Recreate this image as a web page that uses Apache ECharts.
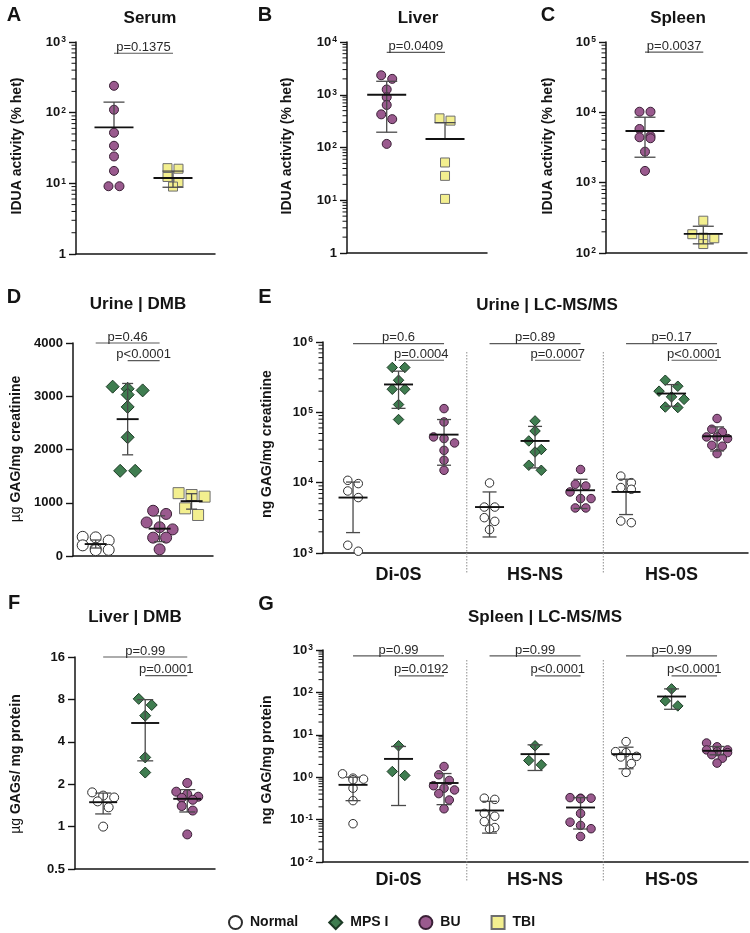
<!DOCTYPE html>
<html>
<head>
<meta charset="utf-8">
<title>IDUA activity and GAG levels</title>
<script src="https://cdn.jsdelivr.net/npm/echarts@6.0.0/dist/echarts.min.js"></script>
<style>
html,body{margin:0;padding:0;background:#ffffff;}
#chart{width:750px;height:933px;}
</style>
</head>
<body>
<div id="chart"></div>
<script>
// ================= DATA =================
const groupNames = ['Normal', 'MPS I', 'BU', 'TBI'];
const lcmsCategories = ['Di-0S', 'HS-NS', 'HS-0S'];

// stats arrays: [mean, lower (mean-SD, null if not drawn), upper (mean+SD)]
// A  Serum IDUA activity (% het)
const serumBU = [240, 110, 52, 34, 24, 15, 9.1, 9.1];
const serumBUStats = [62, null, 141];
const serumTBI = [16.4, 16.1, 12.3, 10.4, 9.0];
const serumTBIStats = [11.9, 8.8, 14.9];
const serumP = ['p=0.1375'];

// B  Liver IDUA activity (% het)
const liverBU = [2340, 2000, 1260, 900, 640, 425, 345, 117];
const liverBUStats = [1000, 195, 1800];
const liverTBI = [357, 323, 52, 29, 10.6];
const liverTBIStats = [145, null, 296];
const liverP = ['p=0.0409'];

// C  Spleen IDUA activity (% het)
const spleenBU = [10200, 10200, 5800, 4600, 4420, 4280, 2760, 1470];
const spleenBUStats = [5440, 2300, 8520];
const spleenTBI = [288, 185, 165, 162, 134];
const spleenTBIStats = [187, 135, 240];
const spleenP = ['p=0.0037'];

// D  Urine DMB (µg GAG/mg creatinine)
const urineDmbNormal = [360, 350, 290, 200, 140, 115, 110];
const urineDmbNormalStats = [224, 150, 300];
const urineDmbMPS = [3180, 3140, 3110, 3030, 2800, 2230, 1600, 1600];
const urineDmbMPSStats = [2570, 1900, 3240];
const urineDmbBU = [850, 790, 630, 540, 500, 345, 345, 125];
const urineDmbBUStats = [513, 270, 755];
const urineDmbTBI = [1180, 1145, 1115, 895, 770];
const urineDmbTBIStats = [1030, 880, 1170];
const urineDmbP = ['p=0.46', 'p<0.0001'];

// E  Urine LC-MS/MS (ng GAG/mg creatinine)
const urineDi0SNormal = [10800, 9700, 7620, 6140, 1290, 1060];
const urineDi0SNormalStats = [6140, 1950, 10200];
const urineDi0SMPS = [434000, 434000, 286000, 213000, 213000, 129000, 79000];
const urineDi0SMPSStats = [249000, 114000, 385000];
const urineDi0SBU = [113000, 73000, 44700, 42400, 36700, 28800, 20800, 15000];
const urineDi0SBUStats = [48200, 17700, 79000];
const urineHSNSNormal = [9900, 4500, 4500, 3180, 2820, 2150];
const urineHSNSNormalStats = [4500, 1690, 7380];
const urineHSNSMPS = [75500, 54300, 39200, 29600, 27300, 17700, 15000];
const urineHSNSMPSStats = [39200, 16200, 63100];
const urineHSNSBU = [15400, 9480, 8970, 7380, 5940, 5940, 4370, 4370];
const urineHSNSBUStats = [7800, 4290, 11170];
const urineHS0SNormal = [12400, 10000, 8520, 8050, 2850, 2700];
const urineHS0SNormalStats = [7380, 3520, 11200];
const urineHS0SMPS = [286000, 235000, 200000, 166000, 153000, 119000, 117000];
const urineHS0SMPSStats = [185000, 122000, 248000];
const urineHS0SBU = [81700, 57500, 52600, 44700, 44700, 42400, 34000, 33000, 25900];
const urineHS0SBUStats = [45700, 28200, 62100];
const urineLcmsP = [['p=0.6', 'p=0.0004'], ['p=0.89', 'p=0.0007'], ['p=0.17', 'p<0.0001']];

// F  Liver DMB (µg GAGs/mg protein)
const liverDmbNormal = [1.75, 1.66, 1.61, 1.51, 1.37, 1.0];
const liverDmbNormalStats = [1.49, 1.23, 1.73];
const liverDmbMPS = [8.07, 7.3, 6.13, 3.10, 2.42];
const liverDmbMPSStats = [5.44, 2.93, 7.97];
const liverDmbBU = [2.04, 1.77, 1.7, 1.63, 1.6, 1.55, 1.4, 1.3, 0.88];
const liverDmbBUStats = [1.575, 1.27, 1.83];
const liverDmbP = ['p=0.99', 'p=0.0001'];

// G  Spleen LC-MS/MS (ng GAG/mg protein)
const spleenDi0SNormal = [1.2, 0.95, 0.9, 0.87, 0.55, 0.28, 0.08];
const spleenDi0SNormalStats = [0.66, 0.28, 1.0];
const spleenDi0SMPS = [5.5, 1.36, 1.1];
const spleenDi0SMPSStats = [2.7, 0.215, 5.3];
const spleenDi0SBU = [1.79, 1.14, 0.84, 0.63, 0.55, 0.5, 0.41, 0.29, 0.18];
const spleenDi0SBUStats = [0.73, 0.225, 1.22];
const spleenHSNSNormal = [0.32, 0.30, 0.14, 0.12, 0.09, 0.065, 0.06];
const spleenHSNSNormalStats = [0.164, 0.048, 0.27];
const spleenHSNSMPS = [5.5, 2.47, 1.96];
const spleenHSNSMPSStats = [3.5, 1.44, 5.8];
const spleenHSNSBU = [0.33, 0.32, 0.32, 0.31, 0.14, 0.087, 0.073, 0.061, 0.04];
const spleenHSNSBUStats = [0.193, 0.06, 0.33];
const spleenHS0SNormal = [6.9, 4.0, 3.8, 3.1, 3.0, 2.1, 1.3];
const spleenHS0SNormalStats = [3.5, 1.58, 5.1];
const spleenHS0SMPS = [121, 63, 48];
const spleenHS0SMPSStats = [80, 40, 121];
const spleenHS0SBU = [6.4, 5.2, 4.4, 4.4, 4.0, 3.8, 3.4, 2.8, 2.15];
const spleenHS0SBUStats = [4.19, 3.37, 5.3];
const spleenLcmsP = [['p=0.99', 'p=0.0192'], ['p=0.99', 'p<0.0001'], ['p=0.99', 'p<0.0001']];

// ================= STYLE / LAYOUT =================
const FONT = '"Liberation Sans", Arial, Helvetica, sans-serif';
const INK = '#141414';
const STY = {
  'Normal': { symbol: 'circle', color: '#ffffff', border: '#2e2e2e', grow: 0 },
  'MPS I': { symbol: 'diamond', color: '#3f7d50', border: '#1c3a25', grow: 2 },
  'BU': { symbol: 'circle', color: '#9a5a8e', border: '#3a2036', grow: 0 },
  'TBI': { symbol: 'rect', color: '#f3ef8f', border: '#6e6e6e', grow: 0 }
};

function lcmsGroups(d) {
  const out = [];
  d.forEach((sec, s) => {
    ['Normal', 'MPS I', 'BU'].forEach((g, k) => out.push([g, 3 * s + k, sec[k][0], sec[k][1]]));
  });
  return out;
}
function lcmsBrackets(P, yTop, ySecond) {
  const out = [];
  P.forEach((pp, s) => {
    out.push([3 * s, 3 * s + 2, yTop, pp[0]]);
    out.push([3 * s + 1, 3 * s + 2, ySecond, pp[1]]);
  });
  return out;
}

const panels = [
  { letter: 'A', letterXY: [14, 15], title: 'Serum', titleXY: [150, 18],
    yTitle: 'IDUA activity (% het)', yTitleXY: [17, 146],
    grid: { left: 76, top: 42, width: 139, height: 212 }, xRange: [-0.644, 1.712],
    y: { type: 'log', base: 10, min: 1, max: 1000, showOne: true, minor: true },
    size: 9, meanW: 39, capW: 21,
    groups: [['BU', 0, serumBU, serumBUStats], ['TBI', 1, serumTBI, serumTBIStats]],
    brackets: [[0, 1, 693, serumP[0]]] },
  { letter: 'B', letterXY: [265, 15], title: 'Liver', titleXY: [418, 18],
    yTitle: 'IDUA activity (% het)', yTitleXY: [287, 146],
    grid: { left: 347, top: 42, width: 140, height: 211 }, xRange: [-0.681, 1.72],
    y: { type: 'log', base: 10, min: 1, max: 10000, showOne: true, minor: true },
    size: 9, meanW: 39, capW: 21,
    groups: [['BU', 0, liverBU, liverBUStats], ['TBI', 1, liverTBI, liverTBIStats]],
    brackets: [[0, 1, 6380, liverP[0]]] },
  { letter: 'C', letterXY: [548, 15], title: 'Spleen', titleXY: [678, 18],
    yTitle: 'IDUA activity (% het)', yTitleXY: [548, 146],
    grid: { left: 606, top: 42, width: 141, height: 211 }, xRange: [-0.669, 1.75],
    y: { type: 'log', base: 10, min: 100, max: 100000, showOne: false, minor: true },
    size: 9, meanW: 39, capW: 21,
    groups: [['BU', 0, spleenBU, spleenBUStats], ['TBI', 1, spleenTBI, spleenTBIStats]],
    brackets: [[0, 1, 71600, spleenP[0]]] },
  { letter: 'D', letterXY: [14, 297], title: 'Urine | DMB', titleXY: [138, 304],
    yTitle: '{r|µg} GAG/mg creatinine', yTitleXY: [16, 449],
    grid: { left: 73, top: 343, width: 140, height: 213 }, xRange: [-0.71, 3.67],
    y: { type: 'value', min: 0, max: 4000, interval: 1000 },
    size: 11, meanW: 22, capW: 11,
    groups: [['Normal', 0, urineDmbNormal, urineDmbNormalStats], ['MPS I', 1, urineDmbMPS, urineDmbMPSStats],
             ['BU', 2, urineDmbBU, urineDmbBUStats], ['TBI', 3, urineDmbTBI, urineDmbTBIStats]],
    brackets: [[0, 2, 4000, urineDmbP[0]], [1, 2, 3670, urineDmbP[1]]] },
  { letter: 'E', letterXY: [265, 297], title: 'Urine | LC-MS/MS', titleXY: [547, 305],
    yTitle: 'ng GAG/mg creatinine', yTitleXY: [267, 444],
    grid: { left: 323, top: 342, width: 425, height: 211 }, xRange: [-0.66, 8.68],
    y: { type: 'log', base: 10, min: 1000, max: 1000000, showOne: false, minor: true },
    size: 8.5, meanW: 29, capW: 14, cats: lcmsCategories, catMargin: 13, separators: [2.5, 5.5],
    groups: lcmsGroups([
      [[urineDi0SNormal, urineDi0SNormalStats], [urineDi0SMPS, urineDi0SMPSStats], [urineDi0SBU, urineDi0SBUStats]],
      [[urineHSNSNormal, urineHSNSNormalStats], [urineHSNSMPS, urineHSNSMPSStats], [urineHSNSBU, urineHSNSBUStats]],
      [[urineHS0SNormal, urineHS0SNormalStats], [urineHS0SMPS, urineHS0SMPSStats], [urineHS0SBU, urineHS0SBUStats]]
    ]),
    brackets: lcmsBrackets(urineLcmsP, 950000, 550000) },
  { letter: 'F', letterXY: [14, 603], title: 'Liver | DMB', titleXY: [135, 617],
    yTitle: '{r|µg} GAGs/ mg protein', yTitleXY: [16, 764],
    grid: { left: 75, top: 657, width: 140, height: 212 }, xRange: [-0.67, 2.66],
    y: { type: 'log', base: 2, min: 0.5, max: 16, minor: false },
    size: 9, meanW: 28, capW: 16,
    groups: [['Normal', 0, liverDmbNormal, liverDmbNormalStats], ['MPS I', 1, liverDmbMPS, liverDmbMPSStats],
             ['BU', 2, liverDmbBU, liverDmbBUStats]],
    brackets: [[0, 2, 16, liverDmbP[0]], [1, 2, 11.8, liverDmbP[1]]] },
  { letter: 'G', letterXY: [266, 604], title: 'Spleen | LC-MS/MS', titleXY: [545, 617],
    yTitle: 'ng GAG/mg protein', yTitleXY: [267, 760],
    grid: { left: 323, top: 650, width: 425, height: 212 }, xRange: [-0.66, 8.68],
    y: { type: 'log', base: 10, min: 0.01, max: 1000, showOne: false, minor: true },
    size: 8.5, meanW: 29, capW: 15, cats: lcmsCategories, catMargin: 9, separators: [2.5, 5.5],
    groups: lcmsGroups([
      [[spleenDi0SNormal, spleenDi0SNormalStats], [spleenDi0SMPS, spleenDi0SMPSStats], [spleenDi0SBU, spleenDi0SBUStats]],
      [[spleenHSNSNormal, spleenHSNSNormalStats], [spleenHSNSMPS, spleenHSNSMPSStats], [spleenHSNSBU, spleenHSNSBUStats]],
      [[spleenHS0SNormal, spleenHS0SNormalStats], [spleenHS0SMPS, spleenHS0SMPSStats], [spleenHS0SBU, spleenHS0SBUStats]]
    ]),
    brackets: lcmsBrackets(spleenLcmsP, 724, 245) }
];

// ================= HELPERS =================
function yFrac(P, v) {
  const y = P.y;
  if (y.type === 'log') {
    const L = x => Math.log(x) / Math.log(y.base);
    return (L(v) - L(y.min)) / (L(y.max) - L(y.min));
  }
  return (v - y.min) / (y.max - y.min);
}
// row-based scatter layout (GraphPad-like): points closer than ~one symbol
// vertically share a row (max 3 per row) spread symmetrically around the group centre
function swarm(P, pos, values, size) {
  const unitPx = P.grid.width / (P.xRange[1] - P.xRange[0]);
  const step = size + 2;
  const order = values.map((v, k) => ({ v, k, yp: yFrac(P, v) * P.grid.height }))
                      .sort((a, b) => b.yp - a.yp);
  const rows = [];
  order.forEach(o => {
    const r = rows[rows.length - 1];
    if (r && r.length < 3 && r[0].yp - o.yp < size * 0.85) r.push(o); else rows.push([o]);
  });
  const out = new Array(values.length);
  rows.forEach(r => {
    r.forEach((o, j) => {
      const off = (j - (r.length - 1) / 2) * step;
      out[o.k] = [pos + off / unitPx, o.v];
    });
  });
  return out;
}
function logLabel(P) {
  return function (v) {
    if (P.y.base === 2) return String(+(+v).toPrecision(4));
    const e = Math.round(Math.log10(v));
    if (e === 0 && P.y.showOne) return '1';
    return '{b|10}{s|' + e + '}';
  };
}
function minorValues(P) {
  const out = [];
  const e0 = Math.round(Math.log10(P.y.min)), e1 = Math.round(Math.log10(P.y.max));
  for (let e = e0; e < e1; e++) for (let m = 2; m <= 9; m++) out.push(m * Math.pow(10, e));
  return out;
}

// ================= OPTION =================
const option = {
  animation: false,
  backgroundColor: '#ffffff',
  textStyle: { fontFamily: FONT },
  grid: [], xAxis: [], yAxis: [], series: [], graphic: [],
  legend: {
    left: 228, top: 915, padding: 0, itemWidth: 13, itemHeight: 13, itemGap: 30,
    selectedMode: false,
    textStyle: { fontFamily: FONT, fontSize: 14, fontWeight: 'bold', color: INK, padding: [0, 0, 0, 3] },
    data: [
      { name: 'Normal', icon: 'circle' }, { name: 'MPS I', icon: 'diamond' },
      { name: 'BU', icon: 'circle' }, { name: 'TBI', icon: 'rect' }
    ]
  }
};

const labelRich = {
  b: { fontSize: 13, fontWeight: 'bold', fontFamily: FONT, color: INK },
  s: { fontSize: 8.5, fontWeight: 'bold', fontFamily: FONT, color: INK, verticalAlign: 'top', padding: [0, 0, 0, 1] }
};

panels.forEach((P, i) => {
  option.grid.push(Object.assign({ containLabel: false, outerBoundsMode: 'none' }, P.grid));

  const xa = {
    type: 'value', gridIndex: i, min: P.xRange[0], max: P.xRange[1],
    axisLine: { show: true, onZero: false, lineStyle: { color: INK, width: 1.5 } },
    axisTick: { show: false }, axisLabel: { show: false }, splitLine: { show: false }
  };
  if (P.cats) {
    xa.axisLabel = {
      show: true, customValues: [1, 4, 7],
      formatter: v => P.cats[Math.round((v - 1) / 3)],
      fontSize: 18, fontWeight: 'bold', fontFamily: FONT, color: INK, margin: P.catMargin
    };
  }
  option.xAxis.push(xa);

  const ya = {
    gridIndex: i, min: P.y.min, max: P.y.max,
    axisLine: { show: true, onZero: false, lineStyle: { color: INK, width: 1.5 } },
    axisTick: { show: true, length: 7, lineStyle: { color: INK, width: 1.4 } },
    axisLabel: { show: true, fontSize: 13, fontWeight: 'bold', fontFamily: FONT, color: INK, margin: 10 },
    splitLine: { show: false }, minorTick: { show: false }
  };
  if (P.y.type === 'log') {
    ya.type = 'log'; ya.logBase = P.y.base;
    ya.axisLabel.formatter = logLabel(P);
    ya.axisLabel.rich = labelRich;
  } else {
    ya.type = 'value'; ya.interval = P.y.interval;
    ya.axisLabel.formatter = v => String(v);
  }
  option.yAxis.push(ya);

  // points
  P.groups.forEach(g => {
    const st = STY[g[0]];
    const size = P.size + st.grow;
    option.series.push({
      type: 'scatter', name: g[0], xAxisIndex: i, yAxisIndex: i,
      symbol: st.symbol, symbolSize: size, silent: true, z: 2,
      itemStyle: { color: st.color, borderColor: st.border, borderWidth: 1, opacity: 1 },
      emphasis: { disabled: true },
      data: swarm(P, g[1], g[2], size)
    });
  });

  // mean ± SD
  option.series.push({
    type: 'custom', xAxisIndex: i, yAxisIndex: i, silent: true, z: 4,
    data: P.groups.map(g => [g[1], g[3][0]]),
    renderItem: (params, api) => {
      const g = P.groups[params.dataIndex];
      const pos = g[1], st = g[3];
      const pm = api.coord([pos, st[0]]);
      const ph = api.coord([pos, st[2]]);
      const hasLo = st[1] != null;
      const pl = hasLo ? api.coord([pos, st[1]]) : pm;
      const wc = P.capW / 2, wm = P.meanW / 2;
      const ws = { stroke: '#4a4a4a', lineWidth: 1.3 };
      const ch = [
        { type: 'line', shape: { x1: pm[0], y1: ph[1], x2: pm[0], y2: pl[1] }, style: ws },
        { type: 'line', shape: { x1: pm[0] - wc, y1: ph[1], x2: pm[0] + wc, y2: ph[1] }, style: ws },
        { type: 'line', shape: { x1: pm[0] - wm, y1: pm[1], x2: pm[0] + wm, y2: pm[1] }, style: { stroke: '#111111', lineWidth: 1.9 } }
      ];
      if (hasLo) ch.push({ type: 'line', shape: { x1: pm[0] - wc, y1: pl[1], x2: pm[0] + wc, y2: pl[1] }, style: ws });
      return { type: 'group', children: ch };
    }
  });

  // significance brackets
  option.series.push({
    type: 'custom', xAxisIndex: i, yAxisIndex: i, silent: true, z: 5,
    data: P.brackets.map(b => [b[0], b[2]]),
    renderItem: (params, api) => {
      const b = P.brackets[params.dataIndex];
      const p1 = api.coord([b[0], b[2]]), p2 = api.coord([b[1], b[2]]);
      return { type: 'group', children: [
        { type: 'line', shape: { x1: p1[0], y1: p1[1], x2: p2[0], y2: p1[1] }, style: { stroke: '#5a5a5a', lineWidth: 1.2 } },
        { type: 'text', x: (p1[0] + p2[0]) / 2, y: p1[1] - 6,
          style: { text: b[3], fontSize: 13, fontFamily: FONT, fill: '#2a2a2a', align: 'center', verticalAlign: 'middle' } }
      ] };
    }
  });

  // log minor ticks
  if (P.y.minor) {
    option.series.push({
      type: 'custom', xAxisIndex: i, yAxisIndex: i, silent: true, z: 3,
      data: minorValues(P).map(v => [P.xRange[0], v]),
      renderItem: (params, api) => {
        const p = api.coord([api.value(0), api.value(1)]);
        const cs = params.coordSys;
        return { type: 'line', shape: { x1: cs.x - 4.5, y1: p[1], x2: cs.x, y2: p[1] }, style: { stroke: INK, lineWidth: 1 } };
      }
    });
  }

  // dotted section separators
  if (P.separators) {
    option.series.push({
      type: 'custom', xAxisIndex: i, yAxisIndex: i, silent: true, z: 1,
      data: P.separators.map(s => [s, P.y.max]),
      renderItem: (params, api) => {
        const p = api.coord([api.value(0), api.value(1)]);
        const cs = params.coordSys;
        return { type: 'line', shape: { x1: p[0], y1: cs.y + 10, x2: p[0], y2: cs.y + cs.height + 20 },
          style: { stroke: '#8c8c8c', lineWidth: 1, lineDash: [1.5, 1.5] } };
      }
    });
  }

  // panel letter, title, y-axis title
  option.graphic.push({ type: 'text', x: P.letterXY[0], y: P.letterXY[1], silent: true,
    style: { text: P.letter, fontSize: 20, fontWeight: 'bold', fontFamily: FONT, fill: INK, align: 'center', verticalAlign: 'middle' } });
  option.graphic.push({ type: 'text', x: P.titleXY[0], y: P.titleXY[1], silent: true,
    style: { text: P.title, fontSize: 17, fontWeight: 'bold', fontFamily: FONT, fill: INK, align: 'center', verticalAlign: 'middle' } });
  option.graphic.push({ type: 'text', x: P.yTitleXY[0], y: P.yTitleXY[1], rotation: Math.PI / 2, silent: true,
    style: { text: P.yTitle, fontSize: 14, fontWeight: 'bold', fontFamily: FONT, fill: INK, align: 'center', verticalAlign: 'middle',
      rich: { r: { fontSize: 14, fontWeight: 'normal', fontFamily: FONT, fill: INK } } } });
});

const chart = echarts.init(document.getElementById('chart'), null, { renderer: 'canvas', width: 750, height: 933 });
chart.setOption(option);
</script>
</body>
</html>
